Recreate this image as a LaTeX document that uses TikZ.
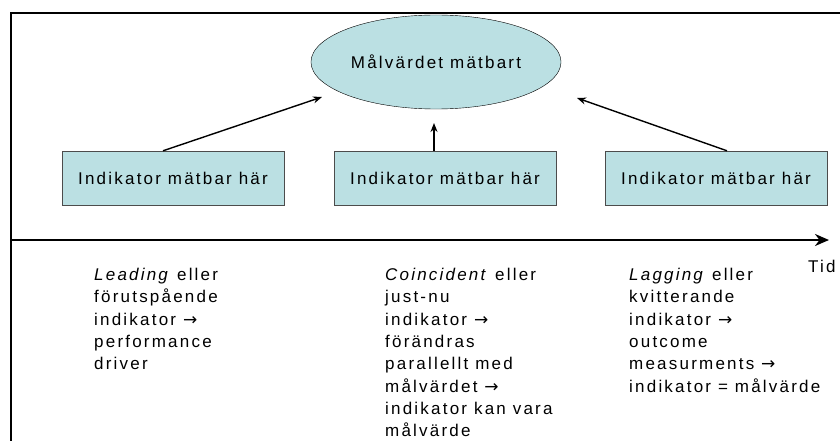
\documentclass[tikz,border=0pt]{standalone}
\usepackage{fontspec}
\setmainfont{Liberation Sans}[LetterSpace=13]
\newfontfamily\pilfont{DejaVu Sans}
\newcommand{\hpil}{{\pilfont →}}
\usetikzlibrary{shapes.geometric,arrows.meta}
\definecolor{ljusbla}{RGB}{187,224,227}

\begin{document}
\begin{tikzpicture}[x=1pt,y=-1pt,
  ind/.style={draw=black!70,fill=ljusbla,minimum width=222pt,minimum height=54pt,font=\fontsize{17}{19}\selectfont},
  pil/.style={line width=1.4pt,-{Stealth[length=9pt,width=7pt]}},
  txt/.style={anchor=north west,align=left,inner sep=0pt,font=\fontsize{17}{22.3}\selectfont}]
\useasboundingbox (0,0) rectangle (840,441);
\draw [line width=2pt] (11,441) -- (11,13) -- (840,13);

\node[draw,ellipse,fill=ljusbla,minimum width=246pt,minimum height=94pt,font=\fontsize{17}{19}\selectfont](mal) at (436,62){Målvärdet mätbart};
\node[ind](ind1) at (173,178){Indikator mätbar här};
\node[ind](ind2) at (445,178){Indikator mätbar här};
\node[ind](ind3) at (716,178){Indikator mätbar här};

\coordinate (p1) at (322,97);
\coordinate (p2) at (434,123);
\coordinate (p3) at (577,98);
 \draw [pil] ([xshift=-10pt]ind1.north) -- (p1);
 \draw [pil] ([xshift=-11pt]ind2.north) -- (p2);
 \draw [pil] ([xshift=11pt]ind3.north) -- (p3);

% tidsaxel
\coordinate (t0) at (11,240);
\coordinate (t1) at (829,240);
 \draw [line width=2.5pt,-{Stealth[length=14pt,width=12pt]}] (t0) -- (t1);

\node[txt](lead) at (94,268){\textit{Leading} eller\\förutspående\\indikator \hpil\\performance\\driver};
\node[txt](koin) at (385,268){\textit{Coincident} eller\\just-nu\\indikator \hpil\\förändras\\parallellt med\\målvärdet \hpil\\indikator kan vara\\målvärde};
\node[txt](lag) at (629,268){\textit{Lagging} eller\\kvitterande\\indikator \hpil\\outcome\\measurments \hpil\\indikator = målvärde};
\node[txt](tid) at (808,260){Tid};
\end{tikzpicture}
\end{document}
